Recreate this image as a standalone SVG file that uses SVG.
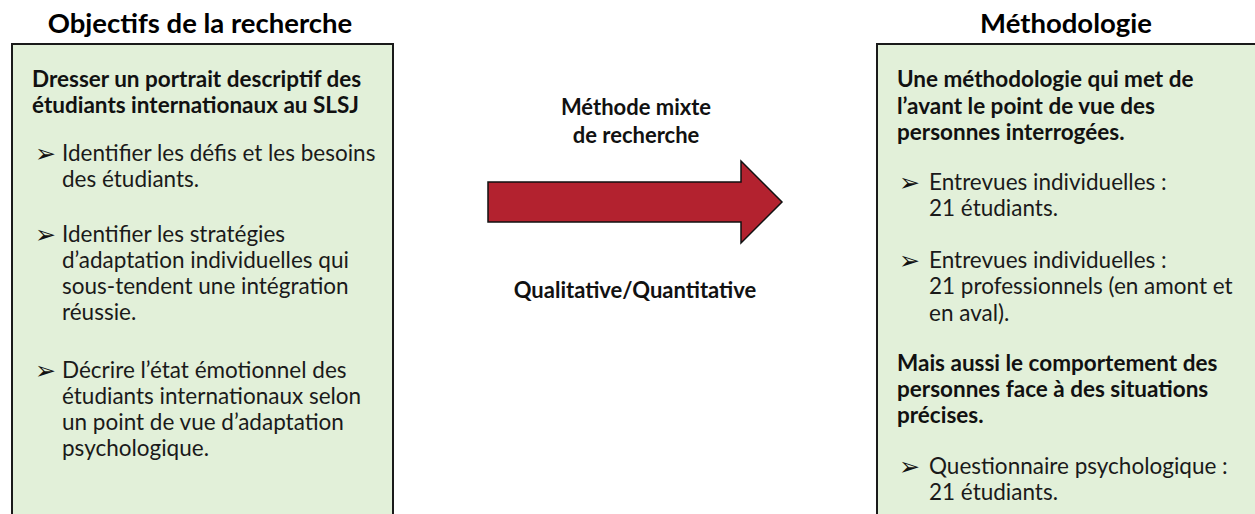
<svg xmlns="http://www.w3.org/2000/svg" width="1255" height="514" viewBox="0 0 1255 514">
<style>
.box{fill:#E2F0D9;stroke:#1a1a1a;stroke-width:2}
.title{font-family:Lato,"Liberation Sans",sans-serif;font-weight:bold;font-size:27.5px;fill:#000;text-anchor:middle}
.b{font-family:Lato,"Liberation Sans",sans-serif;font-weight:bold;font-size:22.5px;fill:#111}
.t{font-family:Lato,"Liberation Sans",sans-serif;font-size:22.5px;fill:#1a1a1a}
.bul{font-family:"DejaVu Sans",sans-serif;font-size:25px;fill:#111}
.mid{font-family:Lato,"Liberation Sans",sans-serif;font-weight:bold;font-size:22px;fill:#111;text-anchor:middle}
.arrow{fill:#B3222F;stroke:#111;stroke-width:1.5;stroke-linejoin:miter}
</style>
<rect width="1255" height="514" fill="#fff"/>
<g id="objectifs">
<text class="title" x="200" y="33">Objectifs de la recherche</text>
<rect class="box" x="12" y="44" width="381" height="480"/>
<text class="b" x="32" y="87">Dresser un portrait descriptif des</text>
<text class="b" x="32" y="113">étudiants internationaux au SLSJ</text>
<text class="bul" x="35" y="162">➢</text>
<text class="t" x="62" y="161">Identifier les défis et les besoins</text>
<text class="t" x="62" y="187">des étudiants.</text>
<text class="bul" x="35" y="243">➢</text>
<text class="t" x="62" y="242">Identifier les stratégies</text>
<text class="t" x="62" y="268">d’adaptation individuelles qui</text>
<text class="t" x="62" y="294">sous-tendent une intégration</text>
<text class="t" x="62" y="320">réussie.</text>
<text class="bul" x="35" y="379">➢</text>
<text class="t" x="62" y="378">Décrire l’état émotionnel des</text>
<text class="t" x="62" y="404">étudiants internationaux selon</text>
<text class="t" x="62" y="430">un point de vue d’adaptation</text>
<text class="t" x="62" y="456">psychologique.</text>
</g>
<g id="methode">
<text class="mid" x="636" y="115">Méthode mixte</text>
<text class="mid" x="636" y="143">de recherche</text>
<text class="mid" x="635" y="298">Qualitative/Quantitative</text>
</g>
<g id="connectors">
<path class="arrow" d="M488,182 L741,182 L741,161 L782,202 L741,243 L741,222 L488,222 Z"/>
</g>
<g id="methodologie">
<text class="title" x="1066" y="33">Méthodologie</text>
<rect class="box" x="877" y="44" width="390" height="480"/>
<text class="b" x="897" y="87">Une méthodologie qui met de</text>
<text class="b" x="897" y="114">l’avant le point de vue des</text>
<text class="b" x="897" y="140">personnes interrogées.</text>
<text class="bul" x="899" y="191">➢</text>
<text class="t" x="929" y="190">Entrevues individuelles :</text>
<text class="t" x="929" y="216">21 étudiants.</text>
<text class="bul" x="899" y="269">➢</text>
<text class="t" x="929" y="268">Entrevues individuelles :</text>
<text class="t" x="929" y="294">21 professionnels (en amont et</text>
<text class="t" x="929" y="321">en aval).</text>
<text class="b" x="897" y="371">Mais aussi le comportement des</text>
<text class="b" x="897" y="397">personnes face à des situations</text>
<text class="b" x="897" y="423">précises.</text>
<text class="bul" x="899" y="475">➢</text>
<text class="t" x="929" y="474">Questionnaire psychologique :</text>
<text class="t" x="929" y="500">21 étudiants.</text>
</g>
</svg>
